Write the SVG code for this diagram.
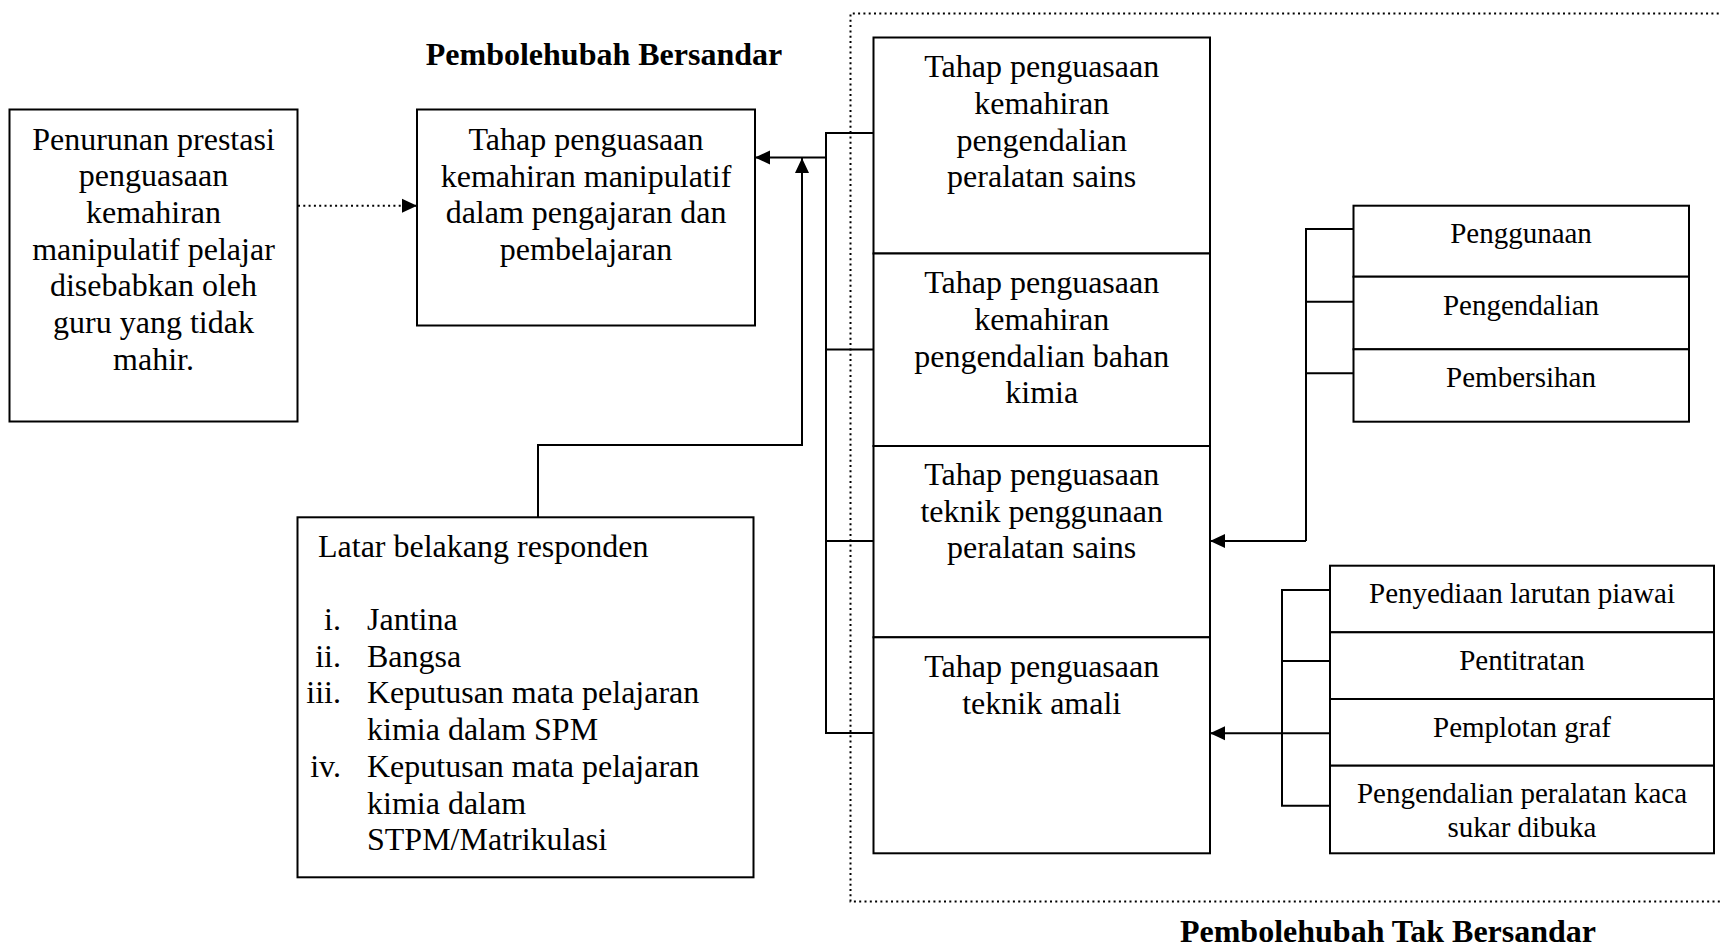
<svg xmlns="http://www.w3.org/2000/svg" width="1722" height="952" viewBox="0 0 1722 952">
<style>
.box{fill:#fff;stroke:#000;stroke-width:2}
.t{font-family:"Liberation Serif","Times New Roman",serif;font-size:32px;fill:#000;text-anchor:middle}
.s{font-family:"Liberation Serif","Times New Roman",serif;font-size:29px;fill:#000;text-anchor:middle}
.l{font-family:"Liberation Serif","Times New Roman",serif;font-size:32px;fill:#000}
.r{text-anchor:end}
.h{font-family:"Liberation Serif","Times New Roman",serif;font-size:32px;font-weight:bold;fill:#000;text-anchor:middle}
.ln{fill:none;stroke:#000;stroke-width:2}
.dot{fill:none;stroke:#000;stroke-width:2;stroke-dasharray:2 3.3}
</style>
<defs>
<marker id="ah" markerUnits="userSpaceOnUse" markerWidth="16" markerHeight="16" viewBox="0 0 16 16" refX="15" refY="8" orient="auto">
<path d="M0,1 L15,8 L0,15 Z" fill="#000"/>
</marker>
</defs>
<rect width="1722" height="952" fill="#fff"/>

<g id="labels">
<text class="h" x="604" y="65">Pembolehubah Bersandar</text>
<text class="h" x="1388" y="942">Pembolehubah Tak Bersandar</text>
</g>

<g id="frame">
<path class="dot" d="M1724,13.5 H850.5 V901.5 H1724"/>
</g>

<g id="connectors">
<line class="dot" x1="298" y1="205.7" x2="417" y2="205.7" marker-end="url(#ah)"/>
<path class="ln" d="M873.5,133 H826 V733 H873.5 M826,349.5 H873.5 M826,541 H873.5"/>
<line class="ln" x1="826" y1="157.5" x2="755" y2="157.5" marker-end="url(#ah)"/>
<path class="ln" d="M538,517 V445 H802 V158" marker-end="url(#ah)"/>
<path class="ln" d="M1353.5,229 H1306 V541 M1306,301.7 H1353.5 M1306,373.3 H1353.5"/>
<line class="ln" x1="1306" y1="541" x2="1210" y2="541" marker-end="url(#ah)"/>
<path class="ln" d="M1330,590 H1282 V805.7 H1330 M1282,661 H1330"/>
<line class="ln" x1="1330" y1="733.3" x2="1210" y2="733.3" marker-end="url(#ah)"/>
</g>

<g id="n-penurunan">
<rect class="box" x="9.5" y="109.5" width="288" height="312"/>
<text class="t" x="153.5" y="149.5">Penurunan prestasi</text>
<text class="t" x="153.5" y="186.2">penguasaan</text>
<text class="t" x="153.5" y="222.9">kemahiran</text>
<text class="t" x="153.5" y="259.6">manipulatif pelajar</text>
<text class="t" x="153.5" y="296.3">disebabkan oleh</text>
<text class="t" x="153.5" y="333">guru yang tidak</text>
<text class="t" x="153.5" y="369.7">mahir.</text>
</g>

<g id="n-bersandar">
<rect class="box" x="417" y="109.5" width="338" height="216"/>
<text class="t" x="586" y="150">Tahap penguasaan</text>
<text class="t" x="586" y="186.7">kemahiran manipulatif</text>
<text class="t" x="586" y="223.4">dalam pengajaran dan</text>
<text class="t" x="586" y="260.1">pembelajaran</text>
</g>

<g id="n-latar">
<rect class="box" x="297.5" y="517.3" width="456" height="360"/>
<text class="l" x="318" y="556.7">Latar belakang responden</text>
<text class="l r" x="341" y="630">i.</text>
<text class="l" x="367" y="630">Jantina</text>
<text class="l r" x="341" y="666.7">ii.</text>
<text class="l" x="367" y="666.7">Bangsa</text>
<text class="l r" x="341" y="703.4">iii.</text>
<text class="l" x="367" y="703.4">Keputusan mata pelajaran</text>
<text class="l" x="367" y="740.1">kimia dalam SPM</text>
<text class="l r" x="341" y="776.8">iv.</text>
<text class="l" x="367" y="776.8">Keputusan mata pelajaran</text>
<text class="l" x="367" y="813.5">kimia dalam</text>
<text class="l" x="367" y="850.2">STPM/Matrikulasi</text>
</g>

<g id="n-peralatan">
<rect class="box" x="873.5" y="37.5" width="336.5" height="216"/>
<text class="t" x="1041.7" y="77.3">Tahap penguasaan</text>
<text class="t" x="1041.7" y="114">kemahiran</text>
<text class="t" x="1041.7" y="150.7">pengendalian</text>
<text class="t" x="1041.7" y="187.4">peralatan sains</text>
</g>

<g id="n-bahan">
<rect class="box" x="873.5" y="253.5" width="336.5" height="192.5"/>
<text class="t" x="1041.7" y="293.3">Tahap penguasaan</text>
<text class="t" x="1041.7" y="330">kemahiran</text>
<text class="t" x="1041.7" y="366.7">pengendalian bahan</text>
<text class="t" x="1041.7" y="403.4">kimia</text>
</g>

<g id="n-teknik-penggunaan">
<rect class="box" x="873.5" y="446" width="336.5" height="191.3"/>
<text class="t" x="1041.7" y="485">Tahap penguasaan</text>
<text class="t" x="1041.7" y="521.7">teknik penggunaan</text>
<text class="t" x="1041.7" y="558.4">peralatan sains</text>
</g>

<g id="n-teknik-amali">
<rect class="box" x="873.5" y="637.3" width="336.5" height="216"/>
<text class="t" x="1041.7" y="677">Tahap penguasaan</text>
<text class="t" x="1041.7" y="713.7">teknik amali</text>
</g>

<g id="n-penggunaan">
<rect class="box" x="1353.5" y="205.7" width="335.5" height="71"/>
<text class="s" x="1521" y="243.3">Penggunaan</text>
</g>
<g id="n-pengendalian">
<rect class="box" x="1353.5" y="276.7" width="335.5" height="72.6"/>
<text class="s" x="1521" y="315">Pengendalian</text>
</g>
<g id="n-pembersihan">
<rect class="box" x="1353.5" y="349.3" width="335.5" height="72.4"/>
<text class="s" x="1521" y="386.7">Pembersihan</text>
</g>

<g id="n-penyediaan">
<rect class="box" x="1330" y="565.7" width="384" height="66.6"/>
<text class="s" x="1522" y="603">Penyediaan larutan piawai</text>
</g>
<g id="n-pentitratan">
<rect class="box" x="1330" y="632.3" width="384" height="66.7"/>
<text class="s" x="1522" y="670">Pentitratan</text>
</g>
<g id="n-pemplotan">
<rect class="box" x="1330" y="699" width="384" height="66.7"/>
<text class="s" x="1522" y="737">Pemplotan graf</text>
</g>
<g id="n-kaca">
<rect class="box" x="1330" y="765.7" width="384" height="87.6"/>
<text class="s" x="1522" y="803">Pengendalian peralatan kaca</text>
<text class="s" x="1522" y="837">sukar dibuka</text>
</g>
</svg>
